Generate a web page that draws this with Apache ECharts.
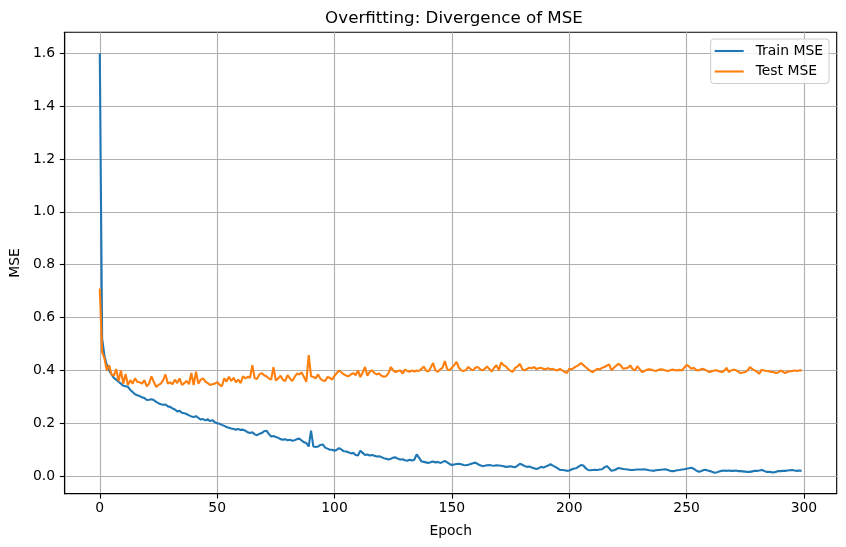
<!DOCTYPE html>
<html>
<head>
<meta charset="utf-8">
<script src="https://cdn.jsdelivr.net/npm/echarts@6/dist/echarts.min.js"></script>
<style>
html,body{margin:0;padding:0;background:#fff;}
#chart{width:846px;height:547px;}
</style>
</head>
<body>
<div id="chart"></div>
<script>
const titleText = "Overfitting: Divergence of MSE";
const xTickValues = [0, 50, 100, 150, 200, 250, 300];
const yTickValues = [0.0, 0.2, 0.4, 0.6, 0.8, 1.0, 1.2, 1.4, 1.6];

const trainMSE = [
1.60,0.52,0.455,0.42,0.40,0.385,0.372,0.365,0.357,0.350,
0.342,0.340,0.338,0.326,0.318,0.310,0.306,0.303,0.298,0.296,
0.288,0.289,0.291,0.288,0.281,0.276,0.272,0.270,0.271,0.264,
0.262,0.256,0.252,0.245,0.247,0.240,0.238,0.235,0.230,0.226,
0.224,0.227,0.220,0.214,0.216,0.211,0.215,0.208,0.212,0.204,
0.200,0.198,0.194,0.190,0.186,0.183,0.180,0.178,0.176,0.178,
0.175,0.176,0.172,0.166,0.163,0.166,0.158,0.155,0.160,0.163,
0.170,0.172,0.160,0.150,0.152,0.148,0.145,0.140,0.138,0.140,
0.136,0.138,0.134,0.136,0.140,0.142,0.135,0.128,0.125,0.112,
0.172,0.112,0.110,0.112,0.118,0.120,0.108,0.104,0.100,0.100,
0.096,0.100,0.106,0.100,0.094,0.093,0.090,0.086,0.088,0.080,
0.078,0.096,0.088,0.080,0.082,0.078,0.080,0.077,0.074,0.075,
0.072,0.068,0.066,0.063,0.066,0.070,0.071,0.066,0.063,0.064,
0.060,0.058,0.062,0.059,0.062,0.082,0.070,0.056,0.054,0.052,
0.050,0.053,0.055,0.052,0.054,0.050,0.053,0.058,0.052,0.046,
0.042,0.044,0.046,0.047,0.045,0.042,0.041,0.043,0.046,0.049,
0.051,0.046,0.041,0.038,0.039,0.041,0.042,0.040,0.039,0.041,
0.040,0.039,0.037,0.035,0.036,0.037,0.035,0.034,0.040,0.047,
0.043,0.038,0.035,0.036,0.033,0.030,0.027,0.030,0.035,0.033,
0.036,0.040,0.045,0.040,0.035,0.030,0.024,0.023,0.022,0.020,
0.021,0.025,0.029,0.030,0.036,0.042,0.040,0.030,0.023,0.022,
0.023,0.024,0.023,0.025,0.026,0.033,0.038,0.030,0.020,0.022,
0.026,0.031,0.029,0.027,0.026,0.025,0.023,0.023,0.024,0.025,
0.025,0.025,0.026,0.024,0.022,0.021,0.020,0.022,0.023,0.024,
0.025,0.026,0.023,0.020,0.019,0.020,0.022,0.023,0.025,0.026,
0.028,0.030,0.032,0.028,0.022,0.017,0.018,0.022,0.024,0.021,
0.019,0.016,0.013,0.015,0.018,0.020,0.021,0.020,0.021,0.020,
0.020,0.021,0.019,0.019,0.018,0.017,0.016,0.016,0.018,0.020,
0.020,0.021,0.023,0.020,0.016,0.016,0.015,0.014,0.016,0.019,
0.019,0.020,0.020,0.021,0.022,0.023,0.021,0.020,0.021,0.020
];

const testMSE = [
0.71,0.47,0.445,0.40,0.42,0.385,0.38,0.405,0.36,0.40,
0.35,0.386,0.345,0.363,0.35,0.37,0.357,0.355,0.35,0.363,
0.34,0.35,0.378,0.357,0.338,0.345,0.35,0.363,0.385,0.35,
0.355,0.348,0.365,0.352,0.37,0.345,0.352,0.36,0.348,0.39,
0.345,0.395,0.35,0.365,0.37,0.358,0.352,0.345,0.348,0.35,
0.356,0.346,0.34,0.37,0.358,0.376,0.36,0.372,0.355,0.365,
0.352,0.378,0.37,0.376,0.372,0.42,0.37,0.368,0.385,0.39,
0.382,0.378,0.37,0.365,0.412,0.362,0.37,0.38,0.365,0.36,
0.382,0.37,0.36,0.375,0.388,0.385,0.392,0.375,0.357,0.458,
0.378,0.375,0.37,0.385,0.368,0.362,0.36,0.375,0.372,0.365,
0.38,0.39,0.40,0.392,0.385,0.38,0.378,0.385,0.39,0.382,
0.40,0.375,0.392,0.413,0.38,0.395,0.40,0.39,0.385,0.388,
0.38,0.376,0.378,0.39,0.413,0.40,0.394,0.398,0.40,0.388,
0.403,0.398,0.395,0.40,0.396,0.40,0.398,0.405,0.415,0.40,
0.396,0.41,0.428,0.40,0.395,0.404,0.41,0.435,0.405,0.40,
0.41,0.42,0.432,0.41,0.40,0.398,0.402,0.413,0.405,0.40,
0.41,0.413,0.405,0.40,0.406,0.415,0.405,0.396,0.41,0.42,
0.40,0.43,0.42,0.415,0.405,0.398,0.395,0.41,0.415,0.425,
0.405,0.40,0.406,0.41,0.408,0.413,0.405,0.408,0.41,0.406,
0.405,0.408,0.404,0.406,0.402,0.40,0.406,0.40,0.395,0.39,
0.406,0.404,0.41,0.415,0.42,0.428,0.42,0.413,0.405,0.398,
0.394,0.40,0.406,0.404,0.41,0.413,0.418,0.423,0.40,0.41,
0.418,0.425,0.418,0.406,0.408,0.41,0.419,0.405,0.40,0.416,
0.405,0.394,0.398,0.402,0.404,0.403,0.40,0.398,0.402,0.404,
0.403,0.40,0.398,0.401,0.403,0.401,0.40,0.402,0.40,0.41,
0.421,0.415,0.406,0.41,0.402,0.40,0.404,0.406,0.402,0.396,
0.394,0.398,0.40,0.40,0.396,0.394,0.398,0.41,0.394,0.40,
0.403,0.401,0.395,0.39,0.392,0.394,0.40,0.413,0.405,0.40,
0.395,0.387,0.403,0.40,0.398,0.397,0.394,0.394,0.39,0.392,
0.40,0.395,0.39,0.395,0.397,0.398,0.40,0.398,0.40,0.40
];

const epochs = trainMSE.map((_, i) => i);

const FONT = 'DejaVu Sans';
const chart = echarts.init(document.getElementById('chart'), null, {renderer: 'canvas'});
const option = {
  backgroundColor: '#ffffff',
  animation: false,
  textStyle: {fontFamily: FONT},
  title: {
    text: titleText,
    left: 449, top: 5, textAlign: 'center',
    textStyle: {fontFamily: FONT, fontSize: 16.7, fontWeight: 'normal', color: '#000'}
  },
  grid: {
    left: 61.3, top: 32.3, width: 775.4, height: 461.4,
    show: true, borderColor: '#000', borderWidth: 1.1, backgroundColor: 'transparent'
  },
  legend: {
    orient: 'vertical',
    right: 17, top: 39,
    icon: 'rect', itemWidth: 29, itemHeight: 2.1, itemGap: 6.5,
    padding: [5, 6, 5, 4],
    backgroundColor: 'rgba(255,255,255,0.8)',
    borderColor: '#cccccc', borderWidth: 1, borderRadius: 3,
    textStyle: {fontFamily: FONT, fontSize: 13.9, color: '#000', padding: [0, 0, 0, 7]},
    data: ['Train MSE', 'Test MSE']
  },
  xAxis: {
    type: 'value', min: -14.95, max: 313.95,
    name: 'Epoch', nameLocation: 'middle', nameGap: 31,
    nameTextStyle: {fontFamily: FONT, fontSize: 13.9, color: '#000'},
    axisLine: {show: true, onZero: false, lineStyle: {color: '#000', width: 1.1}},
    axisTick: {show: true, length: 4.9, inside: false, customValues: xTickValues, lineStyle: {color: '#000', width: 1.1}},
    axisLabel: {customValues: xTickValues, margin: 8, fontFamily: FONT, fontSize: 13.9, color: '#000'},
    splitLine: {show: true, customValues: xTickValues, lineStyle: {color: '#b0b0b0', width: 1.1}}
  },
  yAxis: {
    type: 'value', min: -0.0665, max: 1.6795,
    name: 'MSE', nameLocation: 'middle', nameGap: 38, nameRotate: 90,
    nameTextStyle: {fontFamily: FONT, fontSize: 13.9, color: '#000'},
    axisLine: {show: true, onZero: false, lineStyle: {color: '#000', width: 1.1}},
    axisTick: {show: true, length: 4.9, inside: false, customValues: yTickValues, lineStyle: {color: '#000', width: 1.1}},
    axisLabel: {customValues: yTickValues, margin: 9.7, fontFamily: FONT, fontSize: 13.9, color: '#000',
      formatter: v => Number(v).toFixed(1)},
    splitLine: {show: true, customValues: yTickValues, lineStyle: {color: '#b0b0b0', width: 1.1}}
  },
  series: [
    {
      name: 'Train MSE', type: 'line', showSymbol: false, symbol: 'none',
      data: epochs.map(i => [i, trainMSE[i]]),
      lineStyle: {color: '#1f77b4', width: 2.1}, itemStyle: {color: '#1f77b4'}, z: 3
    },
    {
      name: 'Test MSE', type: 'line', showSymbol: false, symbol: 'none',
      data: epochs.map(i => [i, testMSE[i]]),
      lineStyle: {color: '#ff7f0e', width: 2.1}, itemStyle: {color: '#ff7f0e'}, z: 4
    }
  ]
};
chart.setOption(option);
</script>
</body>
</html>
